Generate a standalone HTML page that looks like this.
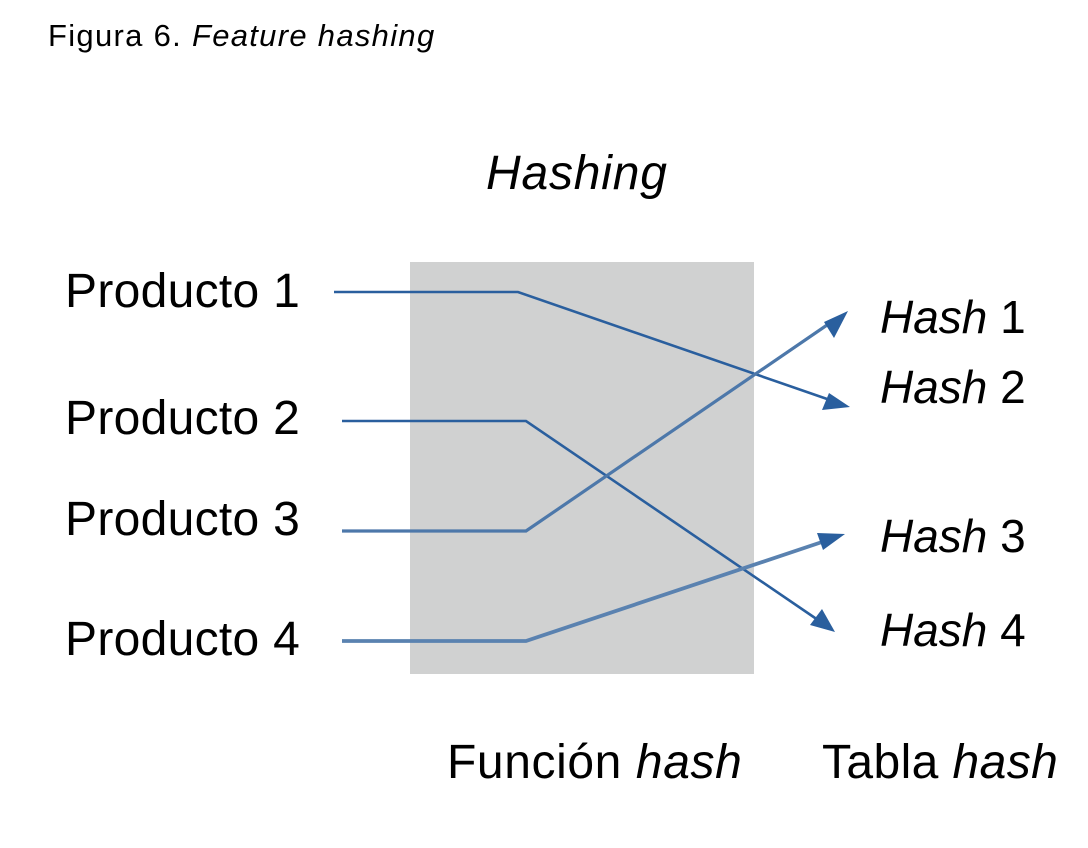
<!DOCTYPE html>
<html><head><style>
body{margin:0;width:1088px;height:848px;background:#fff;overflow:hidden;position:relative;font-family:"Liberation Sans",sans-serif;color:#000}
.t{position:absolute;white-space:nowrap;line-height:1}
.p{font-size:48px;left:65px;letter-spacing:0.3px}
.h{font-size:46px;left:880px;letter-spacing:0px}
i{font-style:italic}
</style></head><body>
<div class="t" style="left:48px;top:20px;font-size:31px;letter-spacing:1.3px">Figura 6. <i>Feature hashing</i></div>
<div class="t" style="left:486px;top:150px;font-size:48px;letter-spacing:0.8px"><i>Hashing</i></div>
<svg style="position:absolute;left:0;top:0" width="1088" height="848">
<rect x="410" y="262" width="344" height="412" fill="#d0d1d1"/>
<g fill="none" stroke="#2a5f9e" stroke-width="2.6">
<polyline points="334,292 518,292 830,400"/>
<polyline points="342,421 526,421 818,620"/>
<polyline points="342,531 526,531 830,323" stroke="#4d78aa" stroke-width="3.2"/>
<polyline points="342,641 526,641 828,540" stroke="#5a82b0" stroke-width="3.8"/>
</g>
<g fill="#2a5f9e">
<path d="M850,407 L822,410 L829,393 Z"/>
<path d="M835,632 L810,625 L822,609 Z"/>
<path d="M848,311 L834,338 L824,322 Z"/>
<path d="M845,534 L823,550 L817,533 Z"/>
</g>
</svg>
<div class="t p" style="top:268px">Producto 1</div>
<div class="t p" style="top:395px">Producto 2</div>
<div class="t p" style="top:496px">Producto 3</div>
<div class="t p" style="top:616px">Producto 4</div>
<div class="t h" style="top:294px"><i>Hash</i> 1</div>
<div class="t h" style="top:364px"><i>Hash</i> 2</div>
<div class="t h" style="top:513px"><i>Hash</i> 3</div>
<div class="t h" style="top:607px"><i>Hash</i> 4</div>
<div class="t" style="left:447px;top:739px;font-size:48px;letter-spacing:0.6px">Función <i>hash</i></div>
<div class="t" style="left:822px;top:739px;font-size:48px;letter-spacing:0.4px">Tabla <i>hash</i></div>
</body></html>
